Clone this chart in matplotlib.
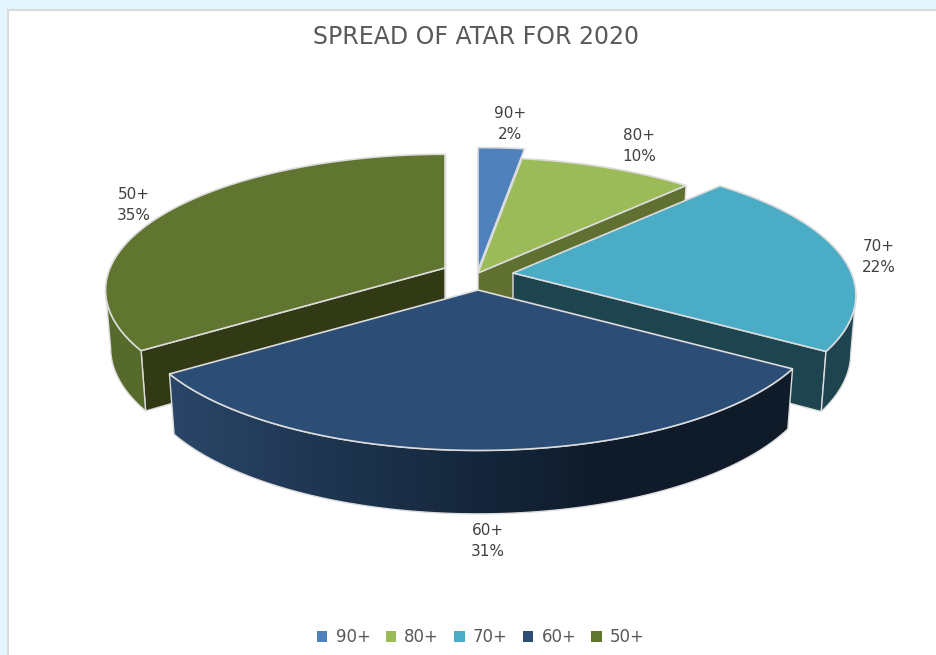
import numpy as np
import matplotlib
matplotlib.use("Agg")
import matplotlib.pyplot as plt
from matplotlib.patches import Patch, Polygon, Rectangle

plt.rcParams['font.family'] = ['DejaVu Sans']

categories = ['90+', '80+', '70+', '60+', '50+']
percent = [2.4, 9.6, 22, 31.4, 34.6]
top_colors = ['#4F81BD', '#9BBB59', '#4BACC6', '#2C4D75', '#5F7530']

# pie layout, in pixels of the picture
RADIUS = 340
TILT = 0.395
PERSP = 0.163
apex = {'90+': (478, 270), '80+': (478, 273), '70+': (513, 273),
        '60+': (478, 290), '50+': (445, 268)}
grow = {'90+': 1.06, '80+': 1.0, '70+': 0.995, '60+': 1.0, '50+': 0.985}
label_pos = {'90+': (510, 124), '80+': (639, 146), '70+': (879, 257),
             '60+': (488, 541), '50+': (134, 205)}
EDGE = '#dcdcdc'

fig = plt.figure(figsize=(9.36, 6.55), dpi=100, facecolor='#E3F6FE')
ax = fig.add_axes([0, 0, 1, 1])
ax.axis('off')
ax.add_patch(Rectangle((8, 10), 960, 680, fc='white', ec='#dadada', lw=1.5, zorder=0))

# start and end angle of every slice, clockwise from north
ends = np.cumsum(percent) * 3.6
starts = ends - np.array(percent) * 3.6
angles = {c: (s, e) for c, s, e in zip(categories, starts, ends)}

# angle at which the rim of the disc turns away from the viewer
SILHOUETTE = np.degrees(np.arccos(-PERSP))


def project(cat, deg, lower=False):
    deg = np.asarray(deg, dtype=float)
    t = np.radians(deg)
    w = 1 + PERSP * np.cos(t)
    r = RADIUS * grow[cat]
    x = r * np.sin(t) / w
    y = -r * TILT * np.cos(t) / w
    if lower:
        x = x * 0.985
        y = y * 1.04 + 57
    return np.column_stack([apex[cat][0] + x, apex[cat][1] + y])


def apex_pt(cat, lower=False):
    x, y = apex[cat]
    return np.array([[x, y + (57 if lower else 0)]])


def arc(cat, a, b, lower=False):
    return project(cat, np.linspace(a, b, 120), lower)


def top(cat, z):
    a, b = angles[cat]
    pts = np.vstack([apex_pt(cat), arc(cat, a, b)])
    ax.add_patch(Polygon(pts, fc=top_colors[categories.index(cat)], ec=EDGE, lw=1.2,
                         joinstyle='round', zorder=z))


def side_wall(cat, deg, color, z):
    # flat wall that runs from the apex out to the rim
    pts = np.vstack([apex_pt(cat), project(cat, [deg]), project(cat, [deg], True), apex_pt(cat, True)])
    ax.add_patch(Polygon(pts, fc=color, ec=EDGE, lw=1.0, zorder=z))


def rim_wall(cat, a, b, color, z):
    pts = np.vstack([arc(cat, a, b), arc(cat, a, b, True)[::-1]])
    p = Polygon(pts, fc=color, ec=EDGE, lw=1.0, zorder=z)
    ax.add_patch(p)
    return p


# back slices first
top('90+', 2)

a, b = angles['80+']
side_wall('80+', b, '#5F7030', 3)
top('80+', 4)

a, b = angles['50+']
side_wall('50+', b, '#5F7030', 5)
side_wall('50+', a, '#313A15', 6)
rim_wall('50+', a, 360 - SILHOUETTE, '#566A2B', 6)
top('50+', 7)

a, b = angles['70+']
side_wall('70+', b, '#1D444F', 8)
rim_wall('70+', SILHOUETTE, b, '#1D444F', 8)
top('70+', 9)

# front slice has a dark shading across its rim
a, b = angles['60+']
rim = rim_wall('60+', a, b, 'none', 11)
shade = matplotlib.colors.LinearSegmentedColormap.from_list(
    'rim', ['#2A4668', '#1B3049', '#0F1C2C', '#0F1B29'])
im = ax.imshow(np.linspace(0, 1, 256)[None, :], extent=(170, 795, 520, 360), cmap=shade,
               aspect='auto', zorder=10)
im.set_clip_path(rim)
top('60+', 12)

for cat, pct in zip(categories, percent):
    x, y = label_pos[cat]
    ax.text(x, y, f'{cat}\n{pct:.0f}%', ha='center', va='center', fontsize=11, color='#404040',
            linespacing=1.5, zorder=20)

ax.text(476, 37, 'SPREAD OF ATAR FOR 2020', ha='center', va='center', fontsize=17, color='#595959')

handles = [Patch(fc=c, ec='none', label=n) for c, n in zip(top_colors, categories)]
ax.legend(handles=handles, loc='center', bbox_to_anchor=(481, 637),
          bbox_transform=ax.transData, ncol=5, frameon=False, fontsize=12,
          labelcolor='#595959', handlelength=0.62, handleheight=0.62,
          handletextpad=0.5, columnspacing=0.9, borderpad=0)

ax.set_xlim(0, 936)
ax.set_ylim(655, 0)
fig.savefig('out.png', dpi=100, facecolor=fig.get_facecolor())
